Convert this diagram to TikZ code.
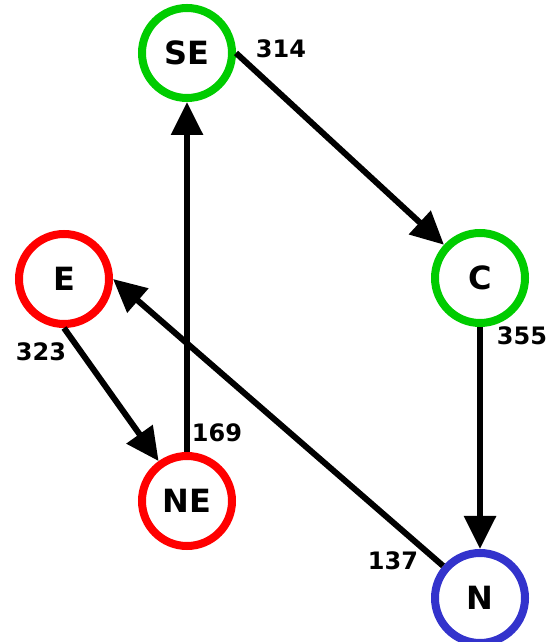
\documentclass[tikz,border=0pt]{standalone}
\usepackage{fontspec}
\setmainfont{DejaVu Sans}
\usetikzlibrary{arrows.meta}
\definecolor{stgreen}{RGB}{0,204,0}
\definecolor{stred}{RGB}{255,0,0}
\definecolor{stblue}{RGB}{51,51,204}
\tikzstyle{state} = [
    circle, minimum size=90pt, line width=8pt, inner sep=0pt,
    font=\fontsize{32}{38}\selectfont\bfseries, text=black
]
\tikzstyle{weight} = [font=\fontsize{24}{29}\selectfont\bfseries, inner sep=0pt]
\tikzstyle{arrow} = [line width=6pt, -{Triangle[length=33pt,width=31pt]}]
\begin{document}
\begin{tikzpicture}[x=1pt, y=1pt]
            \useasboundingbox (0,0) rectangle (557,642);

            \node (se) [state, draw=stgreen] at (187,589) {SE};
            \node (e)  [state, draw=stred]   at (64,363)  {E};
            \node (c)  [state, draw=stgreen] at (480,364) {C};
            \node (ne) [state, draw=stred]   at (187,141) {NE};
            \node (n)  [state, draw=stblue]  at (480,44)  {N};

            \node (w314) [weight] at (281,593) {314};
            \node (w323) [weight] at (41,290)  {323};
            \node (w355) [weight] at (522,306) {355};
            \node (w169) [weight] at (217,209) {169};
            \node (w137) [weight] at (393,81)  {137};

            \draw [arrow] (se.east) -- (c);
            \draw [arrow] (c) -- (n);
            \draw [arrow] (e.south) -- (ne);
            \draw [arrow] (ne) -- (se);
            \draw [arrow] (n) -- (e.east);
        \end{tikzpicture}
\end{document}
